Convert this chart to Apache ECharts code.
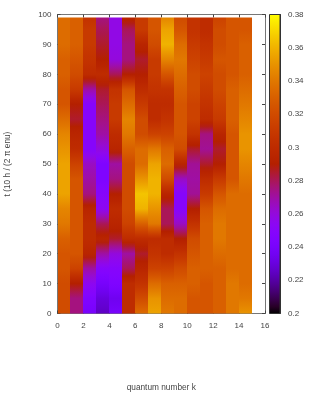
<!DOCTYPE html>
<html><head><meta charset="utf-8">
<script src="https://cdn.jsdelivr.net/npm/echarts@6/dist/echarts.min.js"></script>
<style>html,body{margin:0;padding:0;background:#fff}#c{width:309px;height:396px;filter:blur(0.35px)}</style>
</head><body><div id="c"></div>
<script>
const tRows=[0,5,10,15,20,25,30,35,40,45,50,55,60,65,70,75,80,85,90,95,99];
const k0=[.32,.32,.32,.325,.325,.33,.34,.345,.355,.355,.355,.35,.345,.335,.325,.325,.33,.33,.335,.335,.335];
const k1=[.275,.275,.29,.315,.325,.325,.325,.325,.325,.325,.315,.30,.295,.285,.29,.31,.32,.325,.33,.33,.33];
const k2=[.24,.245,.255,.27,.295,.30,.30,.295,.275,.27,.265,.25,.25,.25,.25,.27,.30,.305,.31,.31,.305];
const k3=[.225,.23,.24,.25,.27,.295,.28,.255,.25,.245,.245,.26,.27,.275,.28,.285,.30,.29,.285,.28,.275];
const k4=[.24,.235,.245,.25,.26,.285,.295,.30,.29,.275,.27,.295,.30,.31,.31,.305,.28,.26,.258,.258,.258];
const k5=[.30,.30,.30,.28,.27,.30,.315,.32,.32,.32,.32,.33,.34,.345,.335,.325,.29,.275,.275,.28,.295];
const k6=[.335,.32,.305,.295,.285,.30,.33,.36,.365,.35,.335,.335,.32,.32,.31,.30,.29,.285,.295,.31,.31];
const k7=[.355,.35,.335,.315,.305,.30,.34,.35,.36,.36,.355,.34,.315,.30,.30,.305,.31,.31,.32,.325,.325];
const k8=[.34,.335,.33,.315,.30,.30,.28,.28,.295,.32,.335,.33,.315,.305,.30,.305,.325,.345,.36,.355,.345];
const k9=[.335,.335,.33,.32,.305,.29,.265,.25,.25,.265,.295,.32,.325,.325,.325,.33,.335,.34,.335,.325,.32];
const k10=[.325,.325,.33,.33,.325,.32,.305,.29,.272,.27,.272,.285,.305,.315,.315,.32,.32,.315,.31,.305,.305];
const k11=[.325,.325,.325,.33,.33,.33,.33,.325,.31,.30,.285,.272,.275,.30,.305,.31,.315,.31,.305,.30,.30];
const k12=[.33,.33,.33,.33,.335,.34,.34,.335,.325,.31,.29,.285,.295,.31,.315,.32,.32,.325,.32,.32,.315];
const k13=[.34,.34,.34,.335,.335,.335,.335,.335,.335,.325,.325,.325,.325,.33,.33,.33,.325,.325,.325,.325,.325];
const k14=[.35,.34,.335,.335,.335,.335,.335,.335,.335,.34,.345,.35,.35,.345,.34,.335,.33,.33,.33,.325,.325];
const columns=[k0,k1,k2,k3,k4,k5,k6,k7,k8,k9,k10,k11,k12,k13,k14];
const zMin=0.2, zMax=0.38;

// gnuplot default pm3d palette (rgbformulae 7,5,15)
function pal(v){
  const x=Math.min(1,Math.max(0,(v-zMin)/(zMax-zMin)));
  const r=Math.sqrt(x),g=x*x*x,b=Math.max(0,Math.sin(2*Math.PI*x));
  return 'rgb('+Math.round(r*255)+','+Math.round(g*255)+','+Math.round(b*255)+')';
}
function stopsFor(col){
  const top=tRows[tRows.length-1],stops=[];
  for(let i=tRows.length-1;i>0;i--){
    for(let s=0;s<4;s++){
      const f=s/4,t=tRows[i]+(tRows[i-1]-tRows[i])*f,v=col[i]+(col[i-1]-col[i])*f;
      stops.push({offset:(top-t)/top,color:pal(v)});
    }
  }
  stops.push({offset:1,color:pal(col[0])});
  return stops;
}
const barStops=[];
for(let i=0;i<=40;i++){barStops.push({offset:i/40,color:pal(zMax-(zMax-zMin)*i/40)});}

const axisC='#777',txt='#444',fs=8,ff='"Liberation Sans",Arial,sans-serif';
const lineS={show:true,lineStyle:{color:axisC,width:1}};
const tick={show:true,inside:true,length:3,lineStyle:{color:'#444',width:1}};

const option={
  animation:false,
  backgroundColor:'#fff',
  grid:[{left:57.5,top:14.5,width:207.5,height:299,outerBoundsMode:'none',containLabel:false},
        {left:269.5,top:14.5,width:10.5,height:299,outerBoundsMode:'none',containLabel:false}],
  textStyle:{fontFamily:ff},
  xAxis:[
    {gridIndex:0,type:'value',min:0,max:16,interval:2,position:'bottom',axisLine:{...lineS,onZero:false},axisTick:tick,splitLine:{show:false},
     axisLabel:{color:txt,fontSize:fs,margin:8,fontFamily:ff},
     name:'quantum number k',nameLocation:'middle',nameGap:70,nameTextStyle:{color:txt,fontSize:8.3,fontFamily:ff}},
    {gridIndex:0,type:'value',min:0,max:16,interval:2,position:'top',axisLine:{...lineS,onZero:false},axisTick:tick,axisLabel:{show:false},splitLine:{show:false}},
    {gridIndex:1,type:'value',min:0,max:1,show:false}
  ],
  yAxis:[
    {gridIndex:0,type:'value',min:0,max:100,interval:10,position:'left',axisLine:{...lineS,onZero:false},axisTick:tick,splitLine:{show:false},
     axisLabel:{color:txt,fontSize:fs,margin:6,fontFamily:ff},
     name:'t (10 h / (2 π enu)',nameLocation:'middle',nameGap:45.5,nameRotate:90,nameTextStyle:{color:txt,fontSize:8.3,fontFamily:ff}},
    {gridIndex:0,type:'value',min:0,max:100,interval:10,position:'right',axisLine:{...lineS,onZero:false},axisTick:tick,axisLabel:{show:false},splitLine:{show:false}},
    {gridIndex:1,type:'value',min:zMin,max:zMax,interval:0.02,position:'right',
     axisLine:{show:true,onZero:false,lineStyle:{color:'#333',width:1}},
     axisTick:{show:true,inside:true,length:3,lineStyle:{color:'#333'}},splitLine:{show:false},
     axisLabel:{color:txt,fontSize:fs,margin:8,fontFamily:ff,formatter:v=>String(parseFloat(v.toFixed(2)))}}
  ],
  series:[
    {type:'custom',xAxisIndex:0,yAxisIndex:0,z:1,clip:false,
     data:columns.map((c,i)=>[i,i+1,0,tRows[tRows.length-1]]),
     encode:{x:[0,1],y:[2,3]},
     renderItem:(p,api)=>{
       const a=api.coord([api.value(0),api.value(3)]),b=api.coord([api.value(1),api.value(2)]);
       const x0=Math.round(a[0]),x1=Math.round(b[0]);
       return {type:'rect',shape:{x:x0,y:a[1],width:x1-x0,height:b[1]-a[1]},
         style:{fill:new echarts.graphic.LinearGradient(0,0,0,1,stopsFor(columns[p.dataIndex]))}};
     }},
    {type:'custom',xAxisIndex:2,yAxisIndex:2,z:1,
     data:[[0,1,zMin,zMax]],
     encode:{x:[0,1],y:[2,3]},
     renderItem:(p,api)=>{
       const a=api.coord([api.value(0),api.value(3)]),b=api.coord([api.value(1),api.value(2)]);
       return {type:'rect',shape:{x:a[0],y:a[1],width:b[0]-a[0],height:b[1]-a[1]},
         style:{fill:new echarts.graphic.LinearGradient(0,0,0,1,barStops),stroke:'#333',lineWidth:1}};
     }}
  ]
};
echarts.init(document.getElementById('c'),null,{renderer:'canvas'}).setOption(option);
</script></body></html>
